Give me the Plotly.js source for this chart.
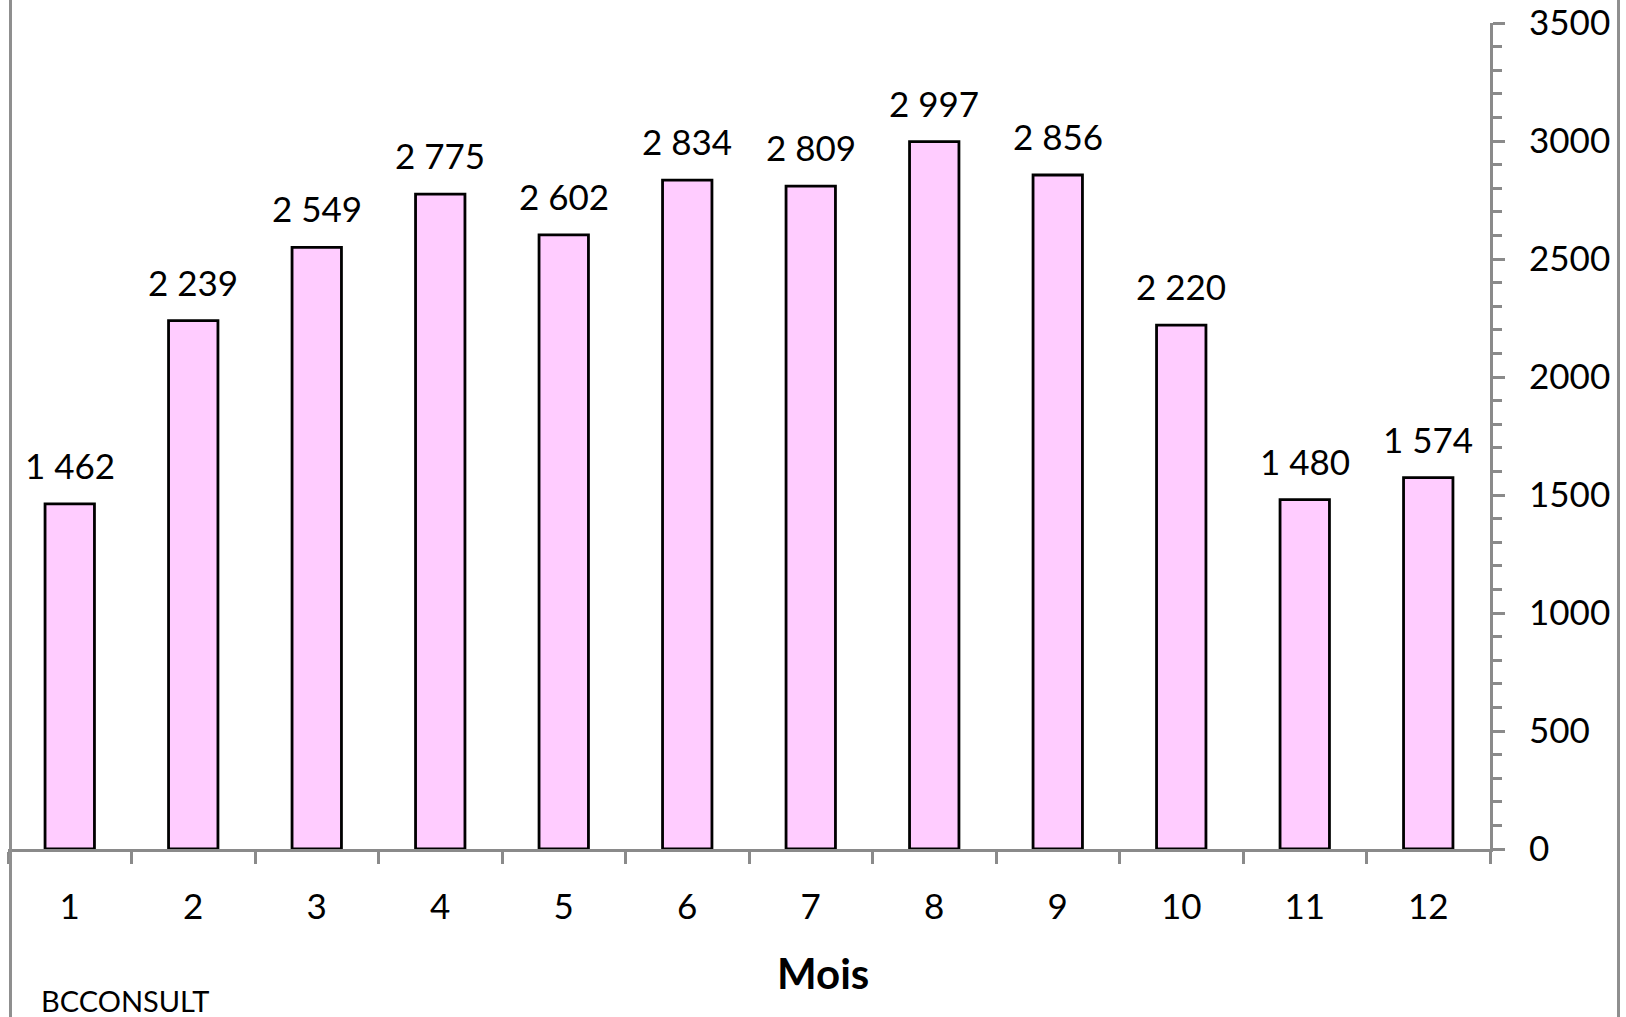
<!DOCTYPE html>
<html>
<head>
<meta charset="utf-8">
<script src="https://cdn.plot.ly/plotly-3.0.1.min.js"></script>
<style>
  html, body { margin: 0; padding: 0; background: #ffffff; }
  #wrap { position: relative; width: 1626px; height: 1017px; overflow: hidden; }
  #chart { width: 1626px; height: 1017px; }
  .border { position: absolute; top: 0; bottom: 0; width: 3px; background: #8f8f8f; pointer-events: none; }
</style>
</head>
<body>
<div id="wrap">
  <div id="chart"></div>
  <div class="border" style="left:9px;"></div>
  <div class="border" style="left:1617px;"></div>
</div>
<script>
// Data
const months = ["1", "2", "3", "4", "5", "6", "7", "8", "9", "10", "11", "12"];
const values = [1462, 2239, 2549, 2775, 2602, 2834, 2809, 2997, 2856, 2220, 1480, 1574];
const xTitle = "Mois";
const sourceText = "BCCONSULT";

function fmtSpace(v) {
  return String(v).replace(/\B(?=(\d{3})+(?!\d))/g, " ");
}

const FONT = "Lato, 'Open Sans', 'Noto Sans', sans-serif";
const AXIS_GREY = "#8a8a8a";
const TXT = 35;

const trace = {
  type: "bar",
  x: months,
  y: values,
  width: 0.40,
  marker: { color: "#ffccff", line: { color: "#000000", width: 2.8 } },
  hoverinfo: "x+y"
};

// data labels: category axis annotations positioned by category index
const annotations = months.map((m, i) => ({
  x: i, y: values[i], xref: "x", yref: "y",
  text: fmtSpace(values[i]), showarrow: false,
  xanchor: "center", yanchor: "middle", yshift: 39,
  font: { family: FONT, size: TXT, color: "#000000" }
}));

annotations.push({
  xref: "paper", yref: "paper", x: (823 - 8) / 1482, y: (849 - 973) / 826,
  text: "<b>" + xTitle + "</b>", showarrow: false, xanchor: "center", yanchor: "middle",
  font: { family: FONT, size: 42, color: "#000000" }
});
annotations.push({
  xref: "paper", yref: "paper", x: (39 - 8) / 1482, y: (849 - 1000) / 826,
  text: sourceText, showarrow: false, xanchor: "left", yanchor: "middle",
  font: { family: FONT, size: 29, color: "#000000" }
});

const layout = {
  width: 1626, height: 1017,
  margin: { l: 8, r: 136, t: 23, b: 168, pad: 0 },
  paper_bgcolor: "#ffffff", plot_bgcolor: "#ffffff",
  showlegend: false,
  font: { family: FONT, size: TXT, color: "#000000" },
  xaxis: {
    type: "category",
    categoryorder: "array", categoryarray: months,
    range: [-0.5, months.length - 0.5], autorange: false,
    tickson: "boundaries",
    ticks: "outside", ticklen: 12, tickwidth: 3, tickcolor: AXIS_GREY,
    showline: true, linecolor: AXIS_GREY, linewidth: 3,
    showgrid: false, zeroline: false,
    ticklabelstandoff: 25,
    tickfont: { family: FONT, size: TXT, color: "#000000" },
    automargin: false, fixedrange: true
  },
  yaxis: {
    side: "right",
    range: [0, 3500], autorange: false, dtick: 500, tick0: 0,
    ticks: "outside", ticklen: 12, tickwidth: 3, tickcolor: AXIS_GREY,
    minor: { dtick: 100, ticks: "outside", ticklen: 9, tickwidth: 3, tickcolor: AXIS_GREY, showgrid: false },
    showline: true, linecolor: AXIS_GREY, linewidth: 3,
    showgrid: false, zeroline: false,
    ticklabelstandoff: 17,
    tickfont: { family: FONT, size: TXT, color: "#000000" },
    automargin: false, fixedrange: true
  },
  annotations: annotations
};

Plotly.newPlot("chart", [trace], layout, { displayModeBar: false, staticPlot: true });
</script>
</body>
</html>
